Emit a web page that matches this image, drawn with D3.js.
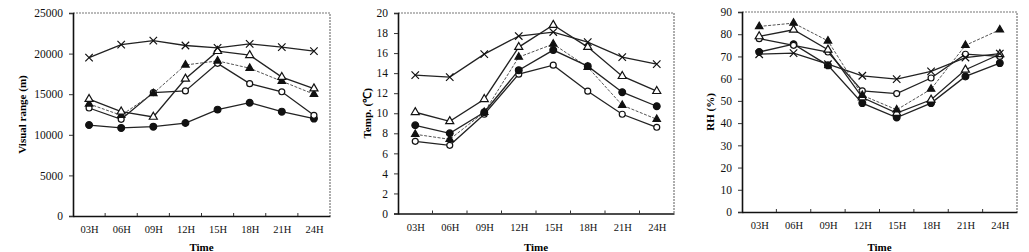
<!DOCTYPE html>
<html lang="en">
<head>
<meta charset="UTF-8">
<title>Visual range, temperature and RH</title>
<script src="https://d3js.org/d3.v7.min.js"></script>
<style>
    body { margin: 0; background: #fff; }
    svg { display: block; font-family: "Liberation Serif", "Times New Roman", serif; }
    .tick text { fill: #111; }
</style>
</head>
<body>
<svg id="chart" width="1029" height="252"></svg>
<script>
// time categories
const times = ["03H", "06H", "09H", "12H", "15H", "18H", "21H", "24H"];

// visual range (m)
const vrCross   = [19500, 21100, 21600, 21000, 20700, 21200, 20800, 20300];
const vrOpenTri = [14400, 12850, 12200, 16900, 20300, 19800, 17100, 15700];
const vrFillTri = [13800, 12400, 15100, 18600, 19100, 18200, 16600, 15000];
const vrOpenCir = [13300, 11900, 15200, 15400, 18800, 16300, 15300, 12400];
const vrFillCir = [11200, 10850, 11000, 11450, 13100, 13950, 12850, 12000];

// temperature (C)
const tCross   = [13.8, 13.6, 15.9, 17.7, 18.1, 17.1, 15.6, 14.9];
const tOpenTri = [10.1, 9.2, 11.4, 16.6, 18.8, 16.6, 13.7, 12.2];
const tFillTri = [7.9, 7.4, 10.1, 15.6, 16.9, 14.6, 10.8, 9.4];
const tOpenCir = [7.2, 6.8, 9.9, 13.9, 14.8, 12.2, 9.9, 8.6];
const tFillCir = [8.8, 8.0, 10.1, 14.3, 16.3, 14.7, 12.1, 10.7];

// relative humidity (%)
const rhCross   = [71, 71.5, 66.5, 61.3, 59.8, 63.3, 69.5, 71.3];
const rhOpenTri = [79, 82, 73, 51.5, 44.5, 50.5, 64, 71];
const rhFillTri = [83.5, 85, 77, 52.5, 46, 55.3, 75, 82];
const rhOpenCir = [78, 75, 72, 54.5, 53.3, 60.3, 71, 70];
const rhFillCir = [72, 75.5, 66, 49, 42.5, 49, 61, 67];

const markers = {
    cross:   { type: d3.symbolTimes, size: 38, fill: "none", dash: null },
    openTri: { type: d3.symbolTriangle, size: 28, fill: "#fff", dash: null },
    fillTri: { type: d3.symbolTriangle, size: 24, fill: "#111", dash: "3,1.5" },
    openCir: { type: d3.symbolCircle, size: 28, fill: "#fff", dash: null },
    fillCir: { type: d3.symbolCircle, size: 36, fill: "#111", dash: null }
};

const panels = [
    {
        box: { left: 73, right: 330, top: 13, bottom: 216 },
        max: 25000, step: 5000, title: "Visual range (m)", titleX: 22,
        series: [["fillCir", vrFillCir], ["openCir", vrOpenCir], ["fillTri", vrFillTri], ["openTri", vrOpenTri], ["cross", vrCross]]
    },
    {
        box: { left: 398, right: 674, top: 13, bottom: 213.5 },
        max: 20, step: 2, title: "Temp. (\u2103)", titleX: 367,
        series: [["openCir", tOpenCir], ["fillTri", tFillTri], ["fillCir", tFillCir], ["openTri", tOpenTri], ["cross", tCross]]
    },
    {
        box: { left: 742, right: 1017, top: 12, bottom: 212 },
        max: 90, step: 10, title: "RH (%)", titleX: 710,
        series: [["fillCir", rhFillCir], ["openCir", rhOpenCir], ["openTri", rhOpenTri], ["fillTri", rhFillTri], ["cross", rhCross]]
    }
];

const svg = d3.select("#chart");

panels.forEach(p => {
    const b = p.box;
    const g = svg.append("g");

    const xBand = d3.scaleBand().domain(times).range([b.left, b.right]);
    const x = d3.scalePoint().domain(times).range([b.left, b.right]).padding(0.5);
    const y = d3.scaleLinear().domain([0, p.max]).range([b.bottom, b.top]);

    // dotted top and right edges of the frame
    g.append("path")
        .attr("d", `M${b.left},${b.top}H${b.right}V${b.bottom}`)
        .attr("fill", "none")
        .attr("stroke", "#777")
        .attr("stroke-width", 1.2)
        .attr("stroke-dasharray", "2,1");

    // y axis
    const yAxis = g.append("g")
        .attr("transform", `translate(${b.left},0)`)
        .call(d3.axisLeft(y)
            .tickValues(d3.range(0, p.max + p.step / 2, p.step))
            .tickFormat(d3.format("d"))
            .tickSize(4).tickPadding(6))
        .attr("font-family", null);
    yAxis.select(".domain").attr("stroke", "#111").attr("stroke-width", 1.6);
    yAxis.selectAll(".tick line").attr("stroke", "#333");
    yAxis.selectAll(".tick text").style("font-size", "11.5px");

    // x axis (labels at categories, small inward ticks between them)
    const xAxis = g.append("g")
        .attr("transform", `translate(0,${b.bottom})`)
        .call(d3.axisBottom(x).tickSize(0).tickPadding(10))
        .attr("font-family", null);
    xAxis.select(".domain").attr("stroke", "#111").attr("stroke-width", 1.6);
    xAxis.selectAll(".tick text").style("font-size", "10.5px");

    g.selectAll(".xtick")
        .data(times.slice(1))
        .enter().append("line")
        .attr("x1", d => xBand(d))
        .attr("x2", d => xBand(d))
        .attr("y1", b.bottom)
        .attr("y2", b.bottom - 3)
        .attr("stroke", "#333");

    // axis titles
    g.append("text")
        .attr("transform", `translate(${p.titleX},${(b.top + b.bottom) / 2}) rotate(-90)`)
        .attr("text-anchor", "middle")
        .attr("dy", "0.35em")
        .style("font-size", "11px")
        .style("font-weight", "bold")
        .text(p.title);

    g.append("text")
        .attr("x", (b.left + b.right) / 2)
        .attr("y", 251)
        .attr("text-anchor", "middle")
        .style("font-size", "11px")
        .style("font-weight", "bold")
        .text("Time");

    const line = d3.line()
        .x((d, i) => x(times[i]))
        .y(d => y(d));

    p.series.forEach(([key, values]) => {
        const m = markers[key];
        g.append("path")
            .datum(values)
            .attr("fill", "none")
            .attr("stroke", m.dash ? "#555" : "#222")
            .attr("stroke-width", m.dash ? 1 : 1.3)
            .attr("stroke-dasharray", m.dash)
            .attr("d", line);

        g.selectAll(null)
            .data(values)
            .enter().append("path")
            .attr("transform", (d, i) => `translate(${x(times[i])},${y(d)})`)
            .attr("d", d3.symbol().type(m.type).size(m.size))
            .attr("fill", m.fill)
            .attr("stroke", "#111")
            .attr("stroke-width", 1.2);
    });
});
</script>
</body>
</html>
